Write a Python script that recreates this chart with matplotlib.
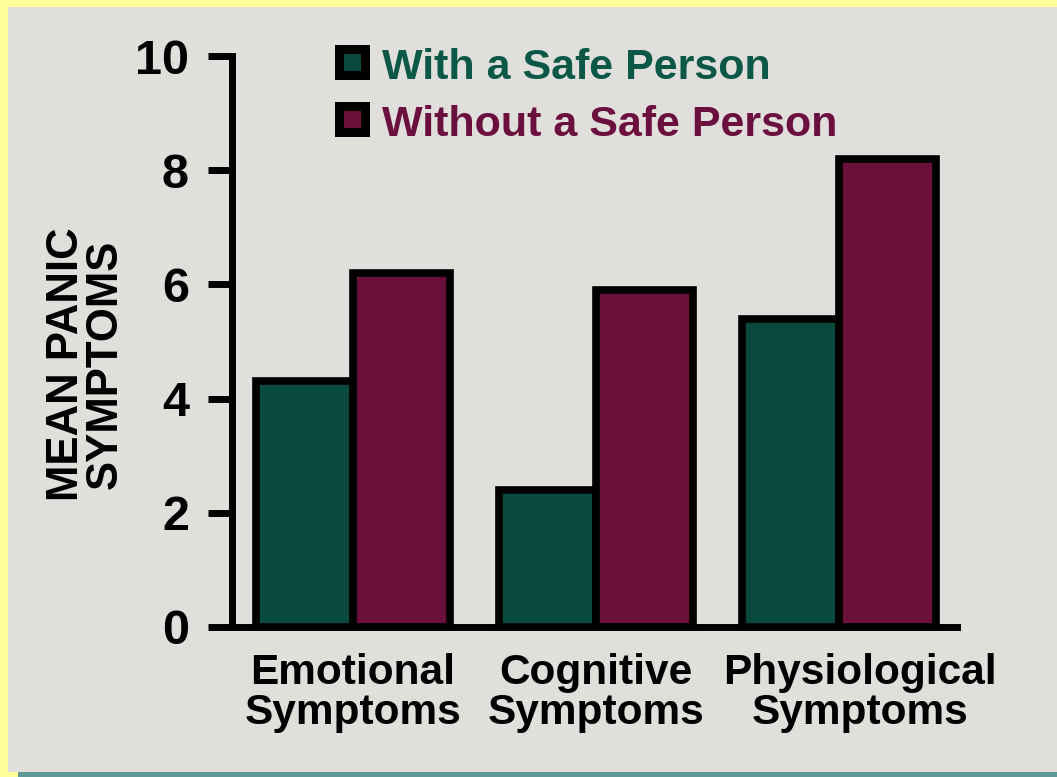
import matplotlib
matplotlib.use("Agg")
import matplotlib.pyplot as plt
import matplotlib.transforms as mtransforms
from matplotlib.patches import Rectangle
import numpy as np

plt.rcParams['font.family'] = ['Liberation Sans', 'DejaVu Sans']
plt.rcParams['font.weight'] = 'bold'

categories = ["Emotional\nSymptoms", "Cognitive\nSymptoms", "Physiological\nSymptoms"]
series_names = ["With a Safe Person", "Without a Safe Person"]
with_safe = [4.3, 2.4, 5.4]
without_safe = [6.2, 5.9, 8.2]
yticks = [0, 2, 4, 6, 8, 10]

GREEN = "#0a4a3e"
PURPLE = "#6a0f3a"
GREEN_TXT = "#0b5846"
PURPLE_TXT = "#6b0f3e"
BG = "#e0dfdb"
YELLOW = "#ffff99"
TEAL = "#5f9896"

W, H = 1057, 777
fig = plt.figure(figsize=(W / 100, H / 100), dpi=100, facecolor=YELLOW)

def px(x0, y0, w, h):
    # pixel box (from top-left) -> figure fraction rect
    return (x0 / W, 1 - (y0 + h) / H, w / W, h / H)

# background panels
l, b, w, h = px(8, 7, W - 8, 765)
fig.patches.append(Rectangle((l, b), w, h, transform=fig.transFigure,
                             facecolor=BG, edgecolor='none', zorder=-2))
l, b, w, h = px(18, 772, W - 18, 5)
fig.patches.append(Rectangle((l, b), w, h, transform=fig.transFigure,
                             facecolor=TEAL, edgecolor='none', zorder=-2))

ax = fig.add_axes(px(232, 56, 725, 571))
ax.set_zorder(1)
ax.set_facecolor('none')

x = np.arange(len(categories))
bw = 0.40
ax.bar(x - bw / 2, with_safe, bw, color=GREEN, edgecolor='black', linewidth=5.5, zorder=3)
ax.bar(x + bw / 2, without_safe, bw, color=PURPLE, edgecolor='black', linewidth=5.5, zorder=3)

ax.set_xlim(-0.497, 2.486)
ax.set_ylim(0, 10)
for s in ['top', 'right']:
    ax.spines[s].set_visible(False)
ax.spines['left'].set_linewidth(5)
ax.spines['bottom'].set_linewidth(5)
ax.spines['left'].set_capstyle('projecting')
ax.spines['bottom'].set_capstyle('projecting')
ax.spines['bottom'].set_zorder(4)
ax.spines['left'].set_bounds(0, 10)

ax.set_yticks(yticks)
ax.set_yticklabels([str(v) for v in yticks], fontsize=35, fontweight='bold')
ax.tick_params(axis='y', length=17, width=5, pad=14, colors='black')
ax.tick_params(axis='x', length=0, pad=19)
ax.set_xticks(x)
ax.set_xticklabels(categories, fontsize=30.5, fontweight='bold', linespacing=1.0)
# last label sits slightly to the right in the original
lab = ax.get_xticklabels()[2]
lab.set_transform(lab.get_transform() + mtransforms.ScaledTranslation(21 / 100, 0, fig.dpi_scale_trans))

ax.set_ylabel("MEAN PANIC\nSYMPTOMS", fontsize=31.5, fontweight='bold', linespacing=0.95)
ax.yaxis.set_label_coords(-0.146, 0.46)

# legend (manual)
for i, (name, col, tcol) in enumerate([(series_names[0], GREEN, GREEN_TXT),
                                       (series_names[1], PURPLE, PURPLE_TXT)]):
    y0 = 45 + i * 57
    l, b, w, h = px(335, y0, 35, 35)
    fig.patches.append(Rectangle((l, b), w, h, transform=fig.transFigure,
                                 facecolor='black', edgecolor='none', zorder=5))
    l, b, w, h = px(344, y0 + 9, 17, 17)
    fig.patches.append(Rectangle((l, b), w, h, transform=fig.transFigure,
                                 facecolor=col, edgecolor='none', zorder=6))
    fig.text(382 / W, 1 - (y0 + 34) / H, name, fontsize=31, fontweight='bold',
             color=tcol, ha='left', va='baseline')

fig.savefig("out.png", dpi=100, facecolor=fig.get_facecolor())
